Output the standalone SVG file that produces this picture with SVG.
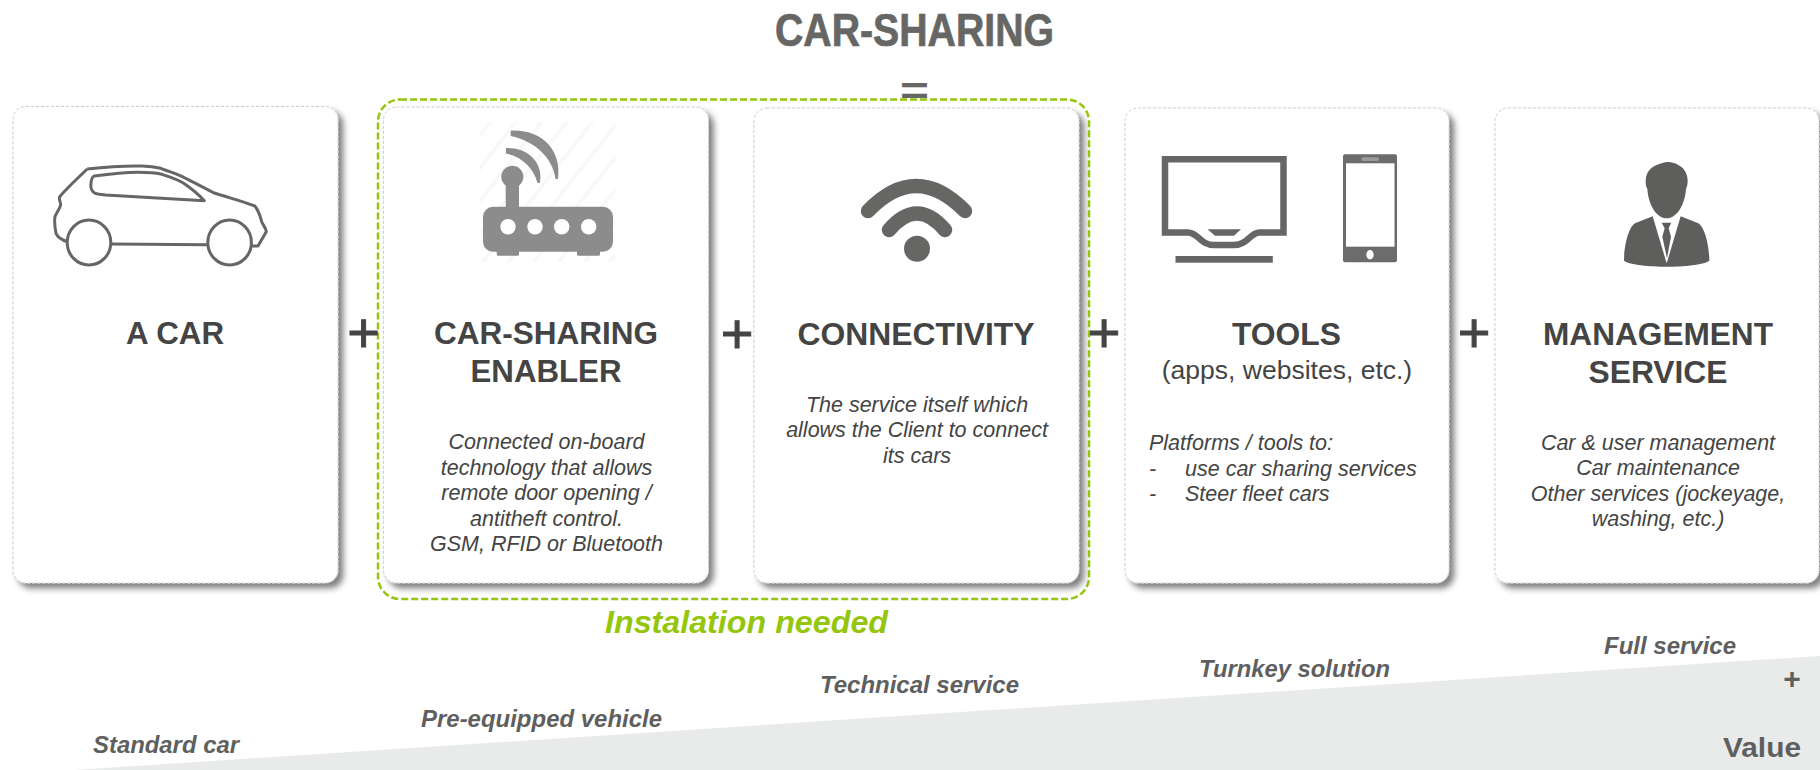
<svg xmlns="http://www.w3.org/2000/svg" width="1820" height="770" viewBox="0 0 1820 770">
<style>
text{font-family:"Liberation Sans",Arial,sans-serif}
.card{fill:#fff;stroke:#cfcdcb;stroke-width:1;stroke-dasharray:3 2;filter:url(#sh)}
.h{font-size:32px;font-weight:700;fill:#444;text-anchor:middle}
.b{font-size:21.500px;font-style:italic;fill:#444;text-anchor:middle}
.bl{font-size:21.500px;font-style:italic;fill:#444}
.lev{font-size:24px;font-weight:700;font-style:italic;fill:#5f5f5f}
.plus{font-size:56px;fill:#444;stroke:#444;stroke-width:1;text-anchor:middle}
.ic{fill:#666665}
.line{fill:none;stroke:#666665;stroke-width:3;stroke-linejoin:round}
</style>
<defs>
<filter id="sh" x="-5%" y="-5%" width="112%" height="112%"><feDropShadow dx="5" dy="5" stdDeviation="3" flood-color="#000" flood-opacity=".5"/></filter>
<pattern id="hatch" width="20" height="20" patternUnits="userSpaceOnUse" patternTransform="rotate(38)"><rect width="20" height="20" fill="#fff"/><rect width="3.500" height="20" fill="#f8f8f8"/></pattern>
</defs>
<path id="value-wedge" d="M74,770L1820,656V770Z" fill="#e9ebea"/>
<text id="title" x="775" y="46" font-size="46" font-weight="700" fill="#666665" stroke="#666665" stroke-width=".7" textLength="279" lengthAdjust="spacingAndGlyphs">CAR-SHARING</text>
<text id="equals" x="914.500" y="104" font-size="38" font-weight="700" fill="#666665" text-anchor="middle" textLength="29" lengthAdjust="spacingAndGlyphs">=</text>

<g id="card-car">
<rect class="card" x="13" y="106.500" width="325" height="476.500" rx="13"/>
<path class="line" d="M87.200,169C105,167 125,165.500 142.300,166C150,166.300 155,167 160.700,168.300C170,172 177,174 183.700,177.300C195,183 205,188 213.500,192.700C230,198 245,202 254.800,206C259,211 260,216 261.700,221.700C263,225 266,228 266.300,231.700L258,246H251.600M87.200,169C78,178 66,189 59.700,196.700C58.500,199 61,203 60.600,205C60,209 56,213 55,216.700C54,222 55,228 56,233.300C58,238 62,240 67.500,241.700"/>
<path class="line" d="M94.100,176C110,174 125,172.500 137.700,172.300C147,172.300 155,172.500 160.700,174C170,177 177,179 183.700,183.300C192,189 199,195 204.300,200.700L105.600,195C100,194.500 96,194 94.100,192.700C91,190 90.500,188 90.900,185C91,180 92,177 94.100,176Z"/>
<ellipse class="line" cx="89" cy="242.500" rx="21.800" ry="22.500"/>
<ellipse class="line" cx="229.600" cy="242.500" rx="21.800" ry="22.500"/>
<path class="line" d="M111,244L208,244.800"/>
<text class="h" x="175" y="344" textLength="98" lengthAdjust="spacingAndGlyphs">A CAR</text>
</g>

<g id="card-enabler">
<rect class="card" x="383.500" y="107" width="325" height="476" rx="13"/>
<rect x="480" y="122" width="135" height="140" fill="url(#hatch)"/>
<g fill="#8c8c8c">
<rect x="483" y="206.700" width="130" height="45" rx="10"/>
<rect x="496.700" y="245" width="22.300" height="10.700" rx="1.500"/>
<rect x="577" y="245" width="23" height="10.700" rx="1.500"/>
<circle cx="512.300" cy="176.700" r="11"/>
<rect x="505.700" y="180" width="13.300" height="30"/>
<path d="M510.700,130.500C542,129 562,150 558,179H555.500C553,158 535,141 510.700,136Z"/>
<path d="M506,148C527,147 544,162 539.800,183H537.500C534,169 523,157 506,153.500Z"/>
</g>
<g fill="#fff"><circle cx="508" cy="226.700" r="7.700"/><circle cx="535" cy="226.700" r="7.700"/><circle cx="561.700" cy="226.700" r="7.700"/><circle cx="588.700" cy="226.700" r="7.700"/></g>
<text class="h" x="546" y="343.500" textLength="224" lengthAdjust="spacingAndGlyphs">CAR-SHARING</text>
<text class="h" x="546" y="381.700" textLength="151" lengthAdjust="spacingAndGlyphs">ENABLER</text>
<text class="b" x="546.500" y="449">Connected on-board</text>
<text class="b" x="546.500" y="475">technology that allows</text>
<text class="b" x="546.500" y="500">remote door opening /</text>
<text class="b" x="546.500" y="526">antitheft control.</text>
<text class="b" x="546.500" y="550.700">GSM, RFID or Bluetooth</text>
</g>

<g id="card-connectivity">
<rect class="card" x="754" y="108" width="325" height="475" rx="13"/>
<g fill="none" stroke="#666665" stroke-width="14.500" stroke-linecap="round"><path d="M868,211Q916,161 965,211"/><path d="M889,230Q917,197 945,230"/></g>
<circle class="ic" cx="917" cy="248.700" r="13"/>
<text class="h" x="916" y="344.700" textLength="237" lengthAdjust="spacingAndGlyphs">CONNECTIVITY</text>
<text class="b" x="917" y="412">The service itself which</text>
<text class="b" x="917" y="437">allows the Client to connect</text>
<text class="b" x="917" y="462.700">its cars</text>
</g>

<g id="card-tools">
<rect class="card" x="1125" y="108" width="324" height="475" rx="13"/>
<path d="M1165,159.300H1283.500V232.400H1259.500C1250,232.400 1248,245 1234,245H1214C1200,245 1198,232.400 1188,232.400H1165Z" fill="none" stroke="#666665" stroke-width="6.500"/>
<path class="ic" d="M1207.600,229.300H1241L1234,235.700H1215Z"/>
<rect class="ic" x="1175.500" y="256" width="97.300" height="6.700"/>
<rect x="1343" y="154.300" width="54" height="108" rx="2" fill="#6c6c6c"/>
<rect x="1346" y="163.300" width="48.500" height="83.400" fill="#fff"/>
<rect x="1361.400" y="157.300" width="17.600" height="3.800" rx="1.500" fill="#999"/>
<ellipse cx="1370" cy="254.700" rx="3.700" ry="4.700" fill="#fff"/>
<text class="h" x="1286.400" y="344.700" textLength="109" lengthAdjust="spacingAndGlyphs">TOOLS</text>
<text x="1287" y="378.700" font-size="26.500" fill="#444" text-anchor="middle">(apps, websites, etc.)</text>
<text class="bl" x="1149" y="450">Platforms / tools to:</text>
<text class="bl" x="1149" y="475.700">-</text><text class="bl" x="1185" y="475.700">use car sharing services</text>
<text class="bl" x="1149" y="501">-</text><text class="bl" x="1185" y="501">Steer fleet cars</text>
</g>

<g id="card-management">
<rect class="card" x="1495" y="108" width="324" height="475" rx="13"/>
<g transform="translate(1440 90) scale(.33333)" fill="#5e5e5d">
<path d="M680,216C715,216 743,238 743,272C743,285 740,292 738,296C735,345 710,385 680,385C650,385 625,345 622,296C619,292 617,285 617,272C617,238 645,222 680,216Z"/>
<path d="M638,379L585,400C565,412 552,470 552,512C570,525 630,530 680,530C730,530 790,525 808,512C808,470 795,412 775,400L722,379L680,520Z"/>
<path d="M665,398H694L686,415L693,440L681,505L667,440L674,415Z"/>
</g>
<text class="h" x="1658" y="344.700" textLength="230" lengthAdjust="spacingAndGlyphs">MANAGEMENT</text>
<text class="h" x="1658" y="382.700" textLength="139" lengthAdjust="spacingAndGlyphs">SERVICE</text>
<text class="b" x="1658" y="450">Car &amp; user management</text>
<text class="b" x="1658" y="475">Car maintenance</text>
<text class="b" x="1658" y="501">Other services (jockeyage,</text>
<text class="b" x="1658" y="526">washing, etc.)</text>
</g>

<g id="connectors">
<rect id="installation-group" x="378" y="99.500" width="711" height="499.500" rx="22" fill="none" stroke="#95c60e" stroke-width="2.500" stroke-dasharray="7 3"/>
</g>

<text class="plus" x="363.500" y="352">+</text>
<text class="plus" x="737" y="353">+</text>
<text class="plus" x="1104" y="352">+</text>
<text class="plus" x="1474" y="352">+</text>
<text id="install-label" x="605" y="633" font-size="32" font-weight="700" font-style="italic" fill="#95c60e" textLength="283" lengthAdjust="spacingAndGlyphs">Instalation needed</text>
<text class="lev" x="93" y="753" textLength="146" lengthAdjust="spacingAndGlyphs">Standard car</text>
<text class="lev" x="421" y="727" textLength="241" lengthAdjust="spacingAndGlyphs">Pre-equipped vehicle</text>
<text class="lev" x="820" y="693" textLength="199" lengthAdjust="spacingAndGlyphs">Technical service</text>
<text class="lev" x="1199" y="677" textLength="191" lengthAdjust="spacingAndGlyphs">Turnkey solution</text>
<text class="lev" x="1604" y="654" textLength="132" lengthAdjust="spacingAndGlyphs">Full service</text>
<text x="1792" y="689" font-size="30" font-weight="700" fill="#5f5f5f" text-anchor="middle">+</text>
<text x="1723" y="757" font-size="28" font-weight="700" fill="#5f5f5f" textLength="78" lengthAdjust="spacingAndGlyphs">Value</text>
</svg>
